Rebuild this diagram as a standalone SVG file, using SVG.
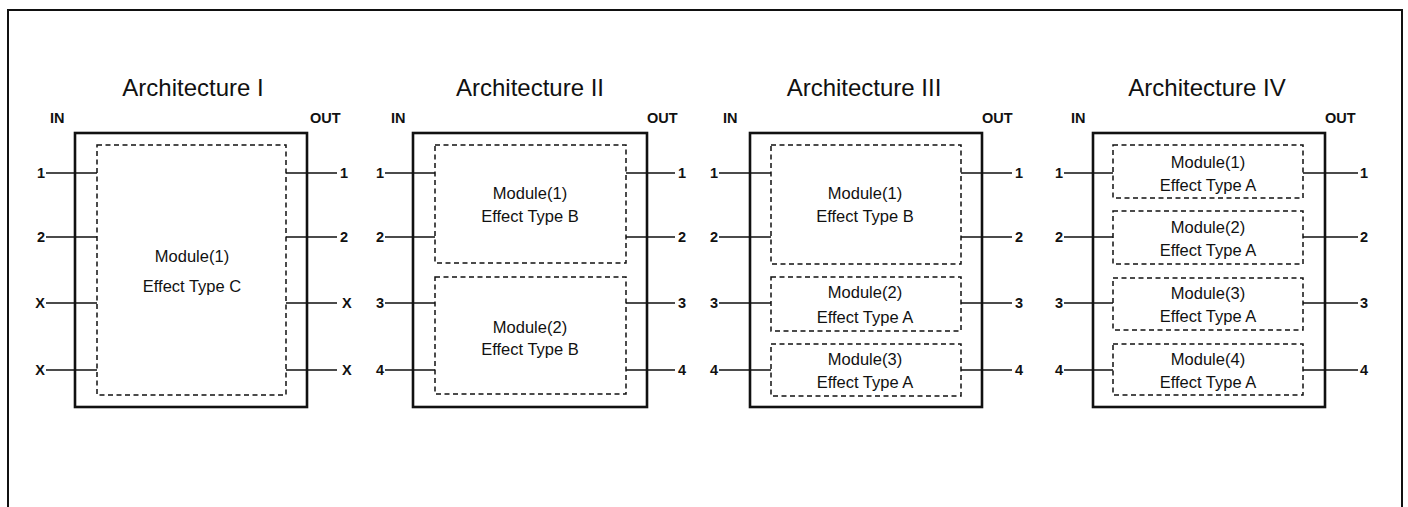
<svg xmlns="http://www.w3.org/2000/svg" width="1408" height="507" viewBox="0 0 1408 507">
<style>
text{font-family:"Liberation Sans",Arial,Helvetica,sans-serif;fill:#111}
.title{font-size:24px;text-anchor:middle}
.io{font-size:14.5px;font-weight:bold}
.num{font-size:14.5px;font-weight:bold}
.l{text-anchor:end}
.mod{font-size:16.5px;text-anchor:middle}
.outer{fill:#fff;stroke:#111;stroke-width:2.6}
.inner{fill:none;stroke:#111;stroke-width:1.5;stroke-dasharray:5 3.5}
.wire{stroke:#111;stroke-width:1.6;fill:none}
.frame{fill:none;stroke:#111;stroke-width:2}
</style>
<rect width="1408" height="507" fill="#fff"/>
<path class="frame" d="M8,507 V10 H1402 V507"/>

<g id="arch1">
<text class="title" x="193" y="96">Architecture I</text>
<text class="io" x="50" y="123">IN</text>
<text class="io" x="310" y="123">OUT</text>
<rect class="outer" x="75" y="133" width="232" height="274"/>
</g>
<g id="arch2">
<text class="title" x="530" y="96">Architecture II</text>
<text class="io" x="391" y="123">IN</text>
<text class="io" x="647" y="123">OUT</text>
<rect class="outer" x="413" y="133" width="234" height="274"/>
</g>
<g id="arch3">
<text class="title" x="864" y="96">Architecture III</text>
<text class="io" x="723" y="123">IN</text>
<text class="io" x="982" y="123">OUT</text>
<rect class="outer" x="750" y="133" width="232" height="274"/>
</g>
<g id="arch4">
<text class="title" x="1207" y="96">Architecture IV</text>
<text class="io" x="1071" y="123">IN</text>
<text class="io" x="1325" y="123">OUT</text>
<rect class="outer" x="1093" y="133" width="232" height="274"/>
</g>

<g id="connectors">
<path class="wire" d="M46,173H97M46,237H97M46,303H97M46,370H97M286,173H337M286,237H337M286,303H337M286,370H337"/>
<path class="wire" d="M385,173H435M385,237H435M385,303H435M385,370H435M626,173H675M626,237H675M626,303H675M626,370H675"/>
<path class="wire" d="M719,173H771M719,237H771M719,303H771M719,370H771M961,173H1012M961,237H1012M961,303H1012M961,370H1012"/>
<path class="wire" d="M1064,173H1113M1064,237H1113M1064,303H1113M1064,370H1113M1303,173H1358M1303,237H1358M1303,303H1358M1303,370H1358"/>
</g>

<g id="arch1-labels">
<text class="num l" x="45" y="178">1</text>
<text class="num l" x="45" y="242">2</text>
<text class="num l" x="45" y="308">X</text>
<text class="num l" x="45" y="375">X</text>
<text class="num" x="340" y="178">1</text>
<text class="num" x="340" y="242">2</text>
<text class="num" x="342" y="308">X</text>
<text class="num" x="342" y="375">X</text>
</g>
<g id="arch1-module1">
<rect class="inner" x="97" y="145" width="189" height="250"/>
<text class="mod" x="192" y="262">Module(1)</text>
<text class="mod" x="192" y="292">Effect Type C</text>
</g>

<g id="arch2-labels">
<text class="num l" x="384" y="178">1</text>
<text class="num l" x="384" y="242">2</text>
<text class="num l" x="384" y="308">3</text>
<text class="num l" x="384" y="375">4</text>
<text class="num" x="678" y="178">1</text>
<text class="num" x="678" y="242">2</text>
<text class="num" x="678" y="308">3</text>
<text class="num" x="678" y="375">4</text>
</g>
<g id="arch2-module1">
<rect class="inner" x="435" y="145" width="191" height="118"/>
<text class="mod" x="530" y="199">Module(1)</text>
<text class="mod" x="530" y="222">Effect Type B</text>
</g>
<g id="arch2-module2">
<rect class="inner" x="435" y="277" width="191" height="117"/>
<text class="mod" x="530" y="333">Module(2)</text>
<text class="mod" x="530" y="355">Effect Type B</text>
</g>

<g id="arch3-labels">
<text class="num l" x="718" y="178">1</text>
<text class="num l" x="718" y="242">2</text>
<text class="num l" x="718" y="308">3</text>
<text class="num l" x="718" y="375">4</text>
<text class="num" x="1015" y="178">1</text>
<text class="num" x="1015" y="242">2</text>
<text class="num" x="1015" y="308">3</text>
<text class="num" x="1015" y="375">4</text>
</g>
<g id="arch3-module1">
<rect class="inner" x="771" y="145" width="190" height="119"/>
<text class="mod" x="865" y="199">Module(1)</text>
<text class="mod" x="865" y="222">Effect Type B</text>
</g>
<g id="arch3-module2">
<rect class="inner" x="771" y="277" width="190" height="54"/>
<text class="mod" x="865" y="298">Module(2)</text>
<text class="mod" x="865" y="323">Effect Type A</text>
</g>
<g id="arch3-module3">
<rect class="inner" x="771" y="344" width="190" height="52"/>
<text class="mod" x="865" y="365">Module(3)</text>
<text class="mod" x="865" y="388">Effect Type A</text>
</g>

<g id="arch4-labels">
<text class="num l" x="1063" y="178">1</text>
<text class="num l" x="1063" y="242">2</text>
<text class="num l" x="1063" y="308">3</text>
<text class="num l" x="1063" y="375">4</text>
<text class="num" x="1360" y="178">1</text>
<text class="num" x="1360" y="242">2</text>
<text class="num" x="1360" y="308">3</text>
<text class="num" x="1360" y="375">4</text>
</g>
<g id="arch4-module1">
<rect class="inner" x="1113" y="145" width="190" height="53"/>
<text class="mod" x="1208" y="168">Module(1)</text>
<text class="mod" x="1208" y="191">Effect Type A</text>
</g>
<g id="arch4-module2">
<rect class="inner" x="1113" y="211" width="190" height="53"/>
<text class="mod" x="1208" y="233">Module(2)</text>
<text class="mod" x="1208" y="256">Effect Type A</text>
</g>
<g id="arch4-module3">
<rect class="inner" x="1113" y="278" width="190" height="52"/>
<text class="mod" x="1208" y="299">Module(3)</text>
<text class="mod" x="1208" y="322">Effect Type A</text>
</g>
<g id="arch4-module4">
<rect class="inner" x="1113" y="344" width="190" height="51"/>
<text class="mod" x="1208" y="365">Module(4)</text>
<text class="mod" x="1208" y="388">Effect Type A</text>
</g>
</svg>
